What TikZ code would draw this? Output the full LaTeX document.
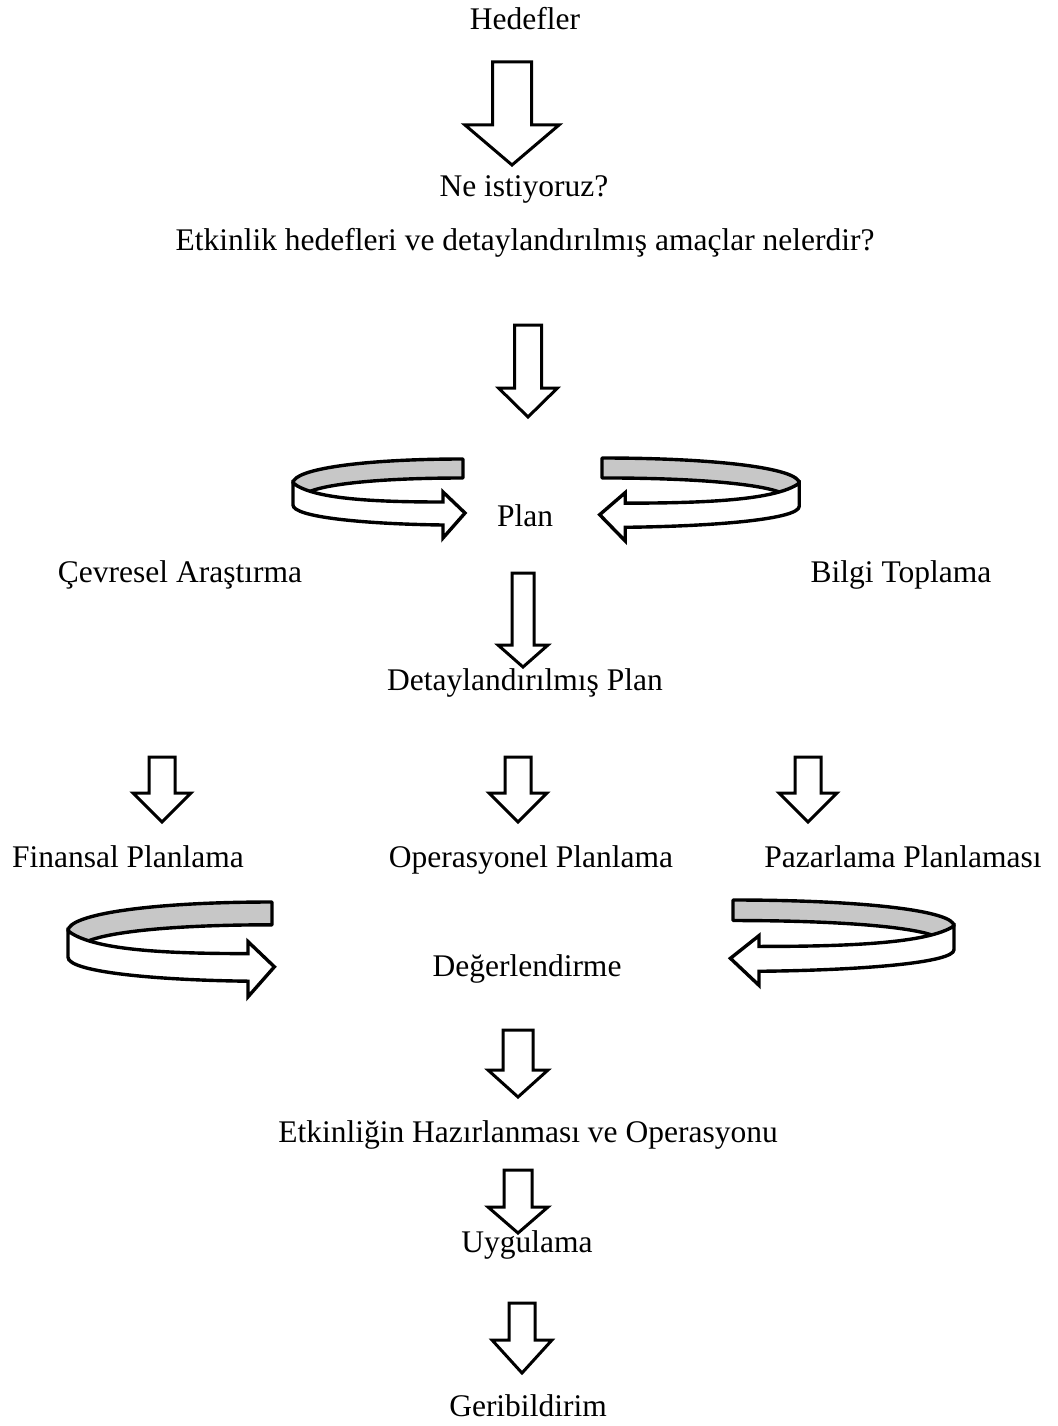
\documentclass[tikz,border=0pt]{standalone}
\usepackage{fontspec}
\setmainfont{Liberation Serif}

\tikzset{
  metin/.style={anchor=base, inner sep=0pt, font=\fontsize{31.5}{36}\selectfont},
  blokcizgi/.style={draw=black, fill=white, line width=3pt, line join=miter},
  griserit/.style={draw=black, fill=black!22, line width=3.4pt, line join=round},
  beyazserit/.style={draw=black, fill=white, line width=3.4pt, line join=miter},
  % donen ok: arkada gri serit, onde beyaz serit ve ok ucu
  donenok/.pic={
    \path[griserit] (0,0) -- (0,19) .. controls (-90,19) and (-145,26) .. (-158,35)
      -- (-170,24) .. controls (-170,10) and (-100,0) .. (0,0) -- cycle;
    \path[beyazserit] (-170,24) .. controls (-150,40) and (-90,43) .. (-20,43)
      -- (-20,33) -- (2,54) -- (-20,79) -- (-20,66)
      .. controls (-100,65) and (-170,58) .. (-170,46) -- cycle;
  }
}

% asagi blok ok: x, ust, bas baslangici, uc, govde yari genislik, bas yari genislik
\newcommand{\asagiok}[6]{%
  \draw[blokcizgi] (#1-#5,#2) -- (#1+#5,#2) -- (#1+#5,#3) -- (#1+#6,#3)
    -- (#1,#4) -- (#1-#6,#3) -- (#1-#5,#3) -- cycle;}

\begin{document}
\begin{tikzpicture}[x=1pt, y=-1pt]
        \useasboundingbox (0,0) rectangle (1057,1426);

        % Adım 1: Metinler
        \node[metin] (hedef) at (525,30) {Hedefler};
        \node[metin] (neistiyoruz) at (524,196) {Ne istiyoruz?};
        \node[metin] (amac) at (525,250) {Etkinlik hedefleri ve detaylandırılmış amaçlar nelerdir?};
        \node[metin] (plan) at (525,526) {Plan};
        \node[metin] (cevresel) at (180,582) {Çevresel Araştırma};
        \node[metin] (bilgi) at (901,582) {Bilgi Toplama};
        \node[metin] (detayplan) at (525,690) {Detaylandırılmış Plan};
        \node[metin] (finansal) at (128,867) {Finansal Planlama};
        \node[metin] (operasyonel) at (531,867) {Operasyonel Planlama};
        \node[metin] (pazarlama) at (903,867) {Pazarlama Planlaması};
        \node[metin] (degerlendirme) at (527,976) {Değerlendirme};
        \node[metin] (hazirlik) at (528,1142) {Etkinliğin Hazırlanması ve Operasyonu};
        \node[metin] (geribildirim) at (528,1416) {Geribildirim};

        % Adım 2: Asagi oklar
        \asagiok{512}{62}{125}{165}{19.5}{47}
        \asagiok{528}{325}{388}{417}{13.5}{29.5}
        \asagiok{523}{573}{645}{667}{11}{25}
        \asagiok{162}{757}{793}{822}{13}{29}
        \asagiok{518}{757}{793}{822}{13}{29}
        \asagiok{808}{757}{793}{822}{13}{29}
        \asagiok{518}{1030}{1070}{1097}{15}{30}
        \asagiok{518}{1170}{1207}{1233}{14}{30}
        \asagiok{522}{1303}{1340}{1373}{13}{30}

        % Adım 3: Uygulama oku metnin altinda kalir
        \node[metin] (uygulama) at (527,1252) {Uygulama};

        % Adım 4: Donen oklar
        \pic at (463,459) {donenok};
        \pic[xscale=-1.16, yscale=1.05] at (602,458) {donenok};
        \pic[scale=1.2] at (272,902) {donenok};
        \pic[xscale=-1.3, yscale=1.08] at (733,900) {donenok};
    \end{tikzpicture}
\end{document}
